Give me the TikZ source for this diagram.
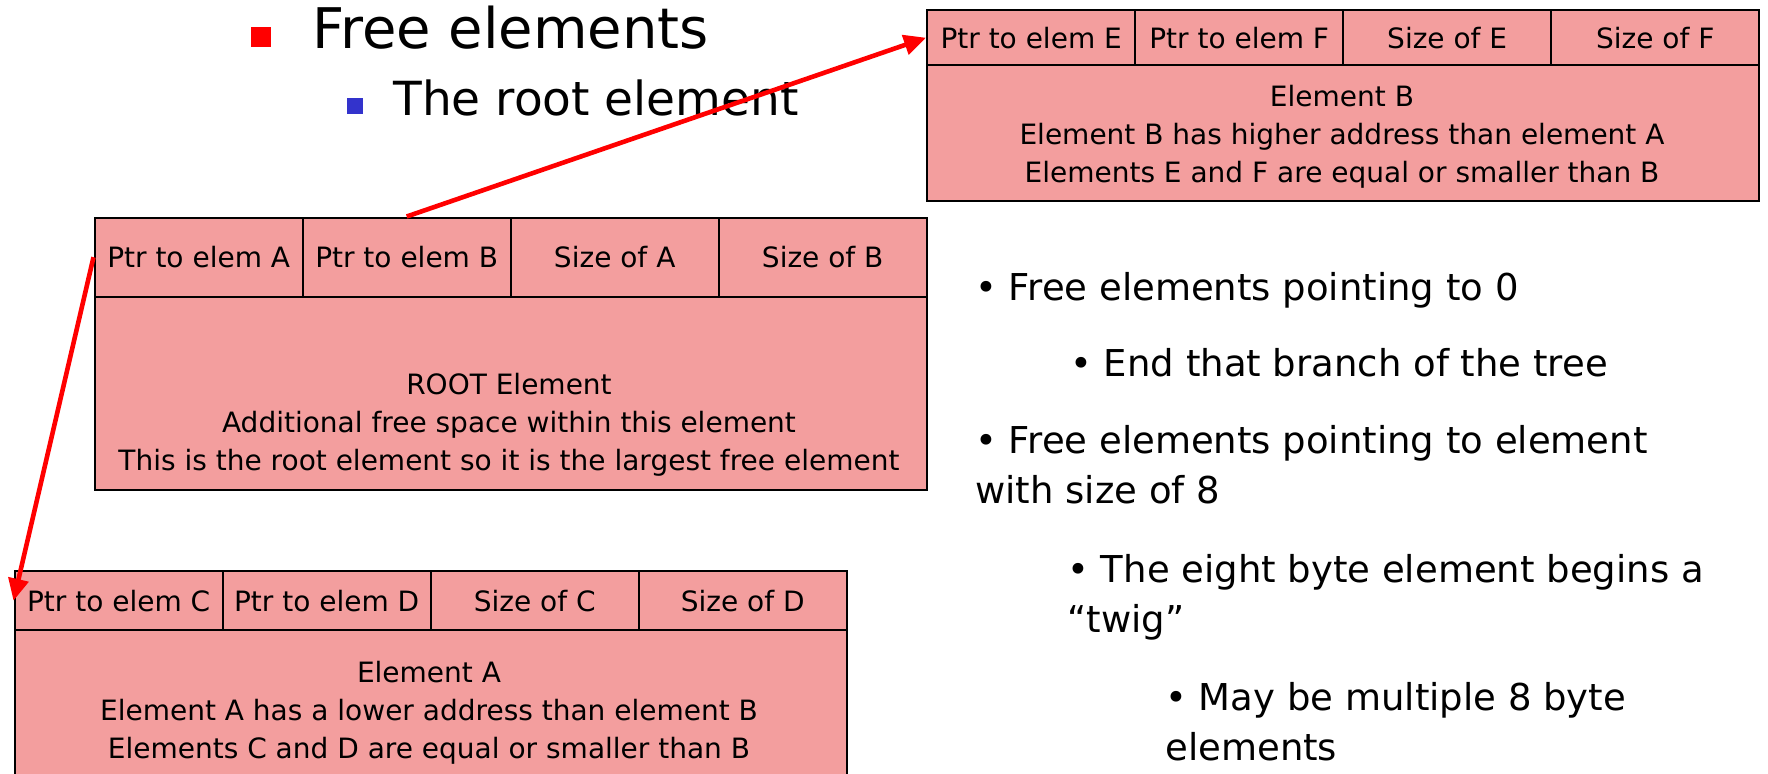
\documentclass[tikz,border=0pt]{standalone}
\usepackage{fontspec}
\setmainfont{DejaVu Sans}
\usetikzlibrary{arrows.meta,positioning}
\definecolor{cellred}{RGB}{243,158,158}
\definecolor{bulletblue}{RGB}{51,51,204}
\tikzset{
	cell/.style={draw=black, line width=1.2pt, fill=cellred, anchor=north west,
		minimum width=104pt, inner sep=0pt, font=\fontsize{14}{19}\selectfont},
	elembody/.style={cell, minimum width=416pt},
	elemtext/.style={inner sep=0pt, align=center, font=\fontsize{14}{19}\selectfont},
	ptr/.style={red, line width=2.3pt, -{Triangle[length=11pt,width=10pt]}},
	bullettext/.style={inner sep=0pt, align=left, font=\fontsize{18.5}{25}\selectfont},
}
\begin{document}
\begin{tikzpicture}[x=0.5pt,y=-0.5pt]
	\useasboundingbox (0,0) rectangle (1768,773);
	\clip (0,0) rectangle (1768,773);
	% slide title
	\node[fill=red, minimum size=10pt, inner sep=0pt] (redsq) at (261,37) {};
	\node[anchor=base west, inner sep=0pt, font=\fontsize{28}{34}\selectfont] (title) at (312,48) {Free elements};
	\node[fill=bulletblue, minimum size=8pt, inner sep=0pt] (bluesq) at (354.5,105.5) {};
	\node[anchor=base west, inner sep=0pt, font=\fontsize{23.5}{28}\selectfont] (subtitle) at (393,115) {The root element};
	% element B (top right)
	\foreach \txt [count=\i] in {Ptr to elem E,Ptr to elem F,Size of E,Size of F} {
		\node[cell, minimum height=27.5pt] (b\i) at (926+208*\i-208,9) {\txt};
	}
	\node[elembody, minimum height=68pt] (bBody) at (926,64) {};
	\node[elemtext] (bText) at (1342,137) {Element B\\Element B has higher address than element A\\Elements E and F are equal or smaller than B};
	% root element
	\foreach \txt [count=\i] in {Ptr to elem A,Ptr to elem B,Size of A,Size of B} {
		\node[cell, minimum height=39.5pt] (root\i) at (93.5+208*\i-208,216.5) {\txt};
	}
	\node[elembody, minimum height=96.5pt] (rootBody) at (93.5,295.5) {};
	\node[elemtext] (rootText) at (509,425) {ROOT Element\\Additional free space within this element\\This is the root element so it is the largest free element};
	% element A (bottom left, cut off by the page)
	\foreach \txt [count=\i] in {Ptr to elem C,Ptr to elem D,Size of C,Size of D} {
		\node[cell, minimum height=30pt] (a\i) at (13.5+208*\i-208,569.5) {\txt};
	}
	\node[elembody, minimum height=90pt] (aBody) at (13.5,629) {};
	\node[elemtext] (aText) at (429,713) {Element A\\Element A has a lower address than element B\\Elements C and D are equal or smaller than B};
	% pointers
	\draw[ptr] (root2.north) -- (b1.west);
	\draw[ptr] (root1.west) -- (a1.west);
	% notes
	\node[bullettext, anchor=base west] (note1) at (975,300) {• Free elements pointing to 0};
	\node[bullettext, anchor=base west] (note2) at (1070,376) {• End that branch of the tree};
	\node[bullettext, anchor=north west] (note3) at (975,425) {• Free elements pointing to element\\with size of 8};
	\node[bullettext, anchor=north west] (note4) at (1067,554) {• The eight byte element begins a\\“twig”};
	\node[bullettext, anchor=north west] (note5) at (1165,682) {• May be multiple 8 byte\\elements};
\end{tikzpicture}
\end{document}
